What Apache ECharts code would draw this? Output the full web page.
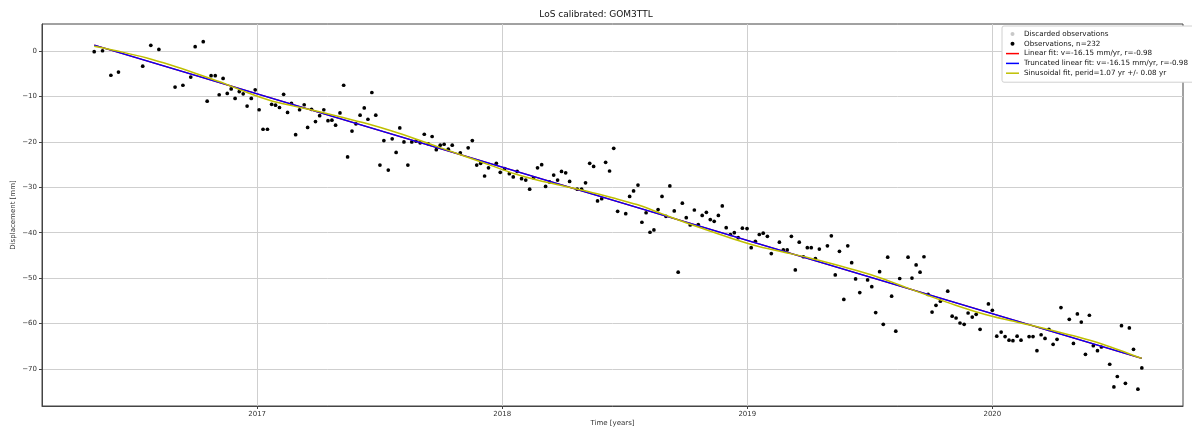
<!DOCTYPE html>
<html>
<head>
<meta charset="utf-8">
<title>LoS calibrated: GOM3TTL</title>
<script src="https://cdn.jsdelivr.net/npm/echarts@6/dist/echarts.min.js"></script>
<style>
  html, body { margin: 0; padding: 0; background: #fff; }
  #main { width: 1192px; height: 428px; }
</style>
</head>
<body>
<div id="main"></div>
<script>
// observation times, decimal years
const obsYears = [
  2016.335, 2016.369, 2016.403, 2016.434, 2016.533, 2016.566, 2016.599, 2016.665, 2016.697, 2016.729,
  2016.747, 2016.780, 2016.796, 2016.812, 2016.829, 2016.845, 2016.861, 2016.878, 2016.894, 2016.910,
  2016.927, 2016.943, 2016.959, 2016.976, 2016.992, 2017.008, 2017.024, 2017.042, 2017.059, 2017.075,
  2017.091, 2017.108, 2017.124, 2017.140, 2017.157, 2017.173, 2017.192, 2017.206, 2017.222, 2017.238,
  2017.255, 2017.272, 2017.289, 2017.305, 2017.320, 2017.338, 2017.353, 2017.369, 2017.387, 2017.403,
  2017.420, 2017.437, 2017.452, 2017.468, 2017.484, 2017.501, 2017.517, 2017.535, 2017.551, 2017.567,
  2017.582, 2017.599, 2017.615, 2017.631, 2017.648, 2017.665, 2017.682, 2017.698, 2017.714, 2017.731,
  2017.747, 2017.763, 2017.780, 2017.796, 2017.829, 2017.861, 2017.878, 2017.896, 2017.912, 2017.928,
  2017.944, 2017.976, 2017.992, 2018.010, 2018.029, 2018.045, 2018.061, 2018.079, 2018.096, 2018.112,
  2018.128, 2018.144, 2018.161, 2018.177, 2018.193, 2018.210, 2018.226, 2018.242, 2018.259, 2018.275,
  2018.306, 2018.324, 2018.340, 2018.357, 2018.373, 2018.389, 2018.406, 2018.422, 2018.438, 2018.455,
  2018.471, 2018.504, 2018.520, 2018.536, 2018.554, 2018.570, 2018.587, 2018.603, 2018.619, 2018.636,
  2018.652, 2018.668, 2018.684, 2018.702, 2018.718, 2018.735, 2018.751, 2018.767, 2018.784, 2018.800,
  2018.816, 2018.833, 2018.849, 2018.865, 2018.882, 2018.898, 2018.914, 2018.931, 2018.947, 2018.963,
  2018.980, 2018.999, 2019.016, 2019.033, 2019.049, 2019.065, 2019.082, 2019.098, 2019.131, 2019.147,
  2019.163, 2019.180, 2019.196, 2019.212, 2019.229, 2019.245, 2019.261, 2019.278, 2019.294, 2019.327,
  2019.343, 2019.359, 2019.376, 2019.394, 2019.410, 2019.426, 2019.442, 2019.459, 2019.491, 2019.508,
  2019.524, 2019.540, 2019.555, 2019.573, 2019.589, 2019.606, 2019.622, 2019.656, 2019.672, 2019.689,
  2019.705, 2019.721, 2019.738, 2019.754, 2019.770, 2019.788, 2019.818, 2019.836, 2019.852, 2019.868,
  2019.885, 2019.901, 2019.918, 2019.934, 2019.950, 2019.984, 2020.000, 2020.018, 2020.036, 2020.052,
  2020.068, 2020.084, 2020.101, 2020.117, 2020.150, 2020.166, 2020.182, 2020.199, 2020.215, 2020.231,
  2020.248, 2020.264, 2020.280, 2020.314, 2020.331, 2020.347, 2020.363, 2020.380, 2020.396, 2020.412,
  2020.429, 2020.445, 2020.479, 2020.496, 2020.510, 2020.527, 2020.543, 2020.559, 2020.576, 2020.594,
  2020.610
];

// displacement [mm]
const obsValues = [
  -0.1, 0.1, -5.3, -4.6, -3.3, 1.3, 0.4, -7.9, -7.5, -5.7,
  1.0, 2.1, -11.0, -5.4, -5.4, -9.6, -6.0, -9.3, -8.3, -10.4,
  -8.9, -9.4, -12.1, -10.4, -8.5, -12.9, -17.2, -17.2, -11.7, -11.9,
  -12.4, -9.5, -13.5, -11.5, -18.4, -12.9, -11.8, -16.8, -12.8, -15.5,
  -14.2, -12.9, -15.3, -15.2, -16.3, -13.6, -7.5, -23.3, -17.6, -16.0,
  -14.1, -12.5, -15.0, -9.1, -14.1, -25.1, -19.7, -26.2, -19.3, -22.3,
  -16.9, -20.0, -25.1, -20.0, -19.8, -20.2, -18.3, -20.4, -18.8, -21.7,
  -20.7, -20.5, -21.6, -20.7, -22.4, -21.3, -19.7, -25.1, -24.7, -27.5,
  -25.7, -24.7, -26.7, -25.9, -27.0, -27.7, -26.5, -28.1, -28.4, -30.4,
  -27.9, -25.7, -25.0, -29.8, -28.8, -27.3, -28.4, -26.5, -26.8, -28.7,
  -30.4, -30.4, -29.0, -24.7, -25.4, -33.0, -32.5, -24.5, -26.4, -21.4,
  -35.3, -35.8, -32.0, -30.8, -29.5, -37.7, -35.6, -39.9, -39.4, -34.9,
  -32.0, -36.4, -29.7, -35.2, -48.7, -33.5, -36.7, -38.3, -35.0, -38.2,
  -36.2, -35.5, -37.1, -37.5, -36.2, -34.1, -38.9, -40.4, -40.0, -41.1,
  -39.0, -39.1, -43.3, -41.9, -40.4, -40.1, -40.8, -44.6, -42.1, -43.8,
  -43.8, -40.8, -48.2, -42.1, -45.3, -43.3, -43.3, -45.7, -43.6, -42.9,
  -40.7, -49.3, -44.1, -54.7, -42.9, -46.6, -50.2, -53.2, -50.4, -51.9,
  -57.6, -48.6, -60.2, -45.4, -54.0, -61.7, -50.1, -45.4, -50.0, -47.1,
  -48.7, -45.3, -53.6, -57.5, -56.0, -55.1, -52.9, -58.4, -58.8, -59.9,
  -60.2, -57.7, -58.6, -58.0, -61.3, -55.7, -57.1, -62.8, -61.9, -62.9,
  -63.7, -63.8, -62.8, -63.7, -62.9, -62.9, -66.0, -62.5, -63.3, -61.3,
  -64.6, -63.5, -56.5, -59.1, -64.4, -57.9, -59.7, -66.8, -58.2, -64.9,
  -66.0, -65.2, -69.0, -74.0, -71.7, -60.5, -73.2, -61.0, -65.7, -74.5,
  -69.8
];

// no discarded observations in this set
const discardedYears = [];
const discardedValues = [];

// linear and truncated linear fit (same line)
const fitYears = [2016.335, 2020.61];
const linearFit = [1.35, -67.7];
const truncatedFit = [1.35, -67.7];

// sinusoidal fit
const sinYears = [
  2016.335, 2016.45, 2016.55, 2016.65, 2016.75, 2016.85, 2016.95, 2017.05, 2017.15, 2017.25,
  2017.35, 2017.45, 2017.55, 2017.65, 2017.75, 2017.85, 2017.95, 2018.05, 2018.15, 2018.25,
  2018.35, 2018.45, 2018.55, 2018.65, 2018.75, 2018.85, 2018.95, 2019.05, 2019.15, 2019.25,
  2019.35, 2019.45, 2019.55, 2019.65, 2019.75, 2019.85, 2019.95, 2020.05, 2020.15, 2020.25,
  2020.35, 2020.45, 2020.55, 2020.61
];
const sinValues = [
  1.1, -0.2, -1.5, -3.1, -4.9, -6.8, -8.9, -10.8, -12.1, -13.3,
  -14.6, -16.0, -17.6, -19.4, -21.3, -23.2, -25.1, -27.0, -28.5, -29.7,
  -30.9, -32.3, -33.8, -35.8, -37.8, -39.7, -41.5, -43.1, -44.3, -45.5,
  -46.9, -48.4, -50.1, -52.1, -54.1, -56.0, -57.7, -59.1, -60.3, -61.6,
  -63.0, -64.6, -66.5, -67.7
];

const xTicks = [2017, 2018, 2019, 2020];
const yTicks = [-70, -60, -50, -40, -30, -20, -10, 0];

const pairs = (xs, ys) => xs.map((x, i) => [x, ys[i]]);
const minus = (v) => String(v).replace("-", "\u2212");

// 图例里的线段图标（细横线）
const lineIcon = "path://M0,0L26,0L26,3L0,3Z";

var myChart = echarts.init(document.getElementById("main"));

var option = {
  animation: false,
  backgroundColor: "#fff",
  textStyle: { fontFamily: "DejaVu Sans" },
  title: {
    text: "LoS calibrated: GOM3TTL",
    left: "center",
    top: 5,
    textStyle: { fontSize: 9, fontWeight: "normal", color: "#111", fontFamily: "DejaVu Sans" },
  },
  grid: {
    left: 42,
    right: 9,
    top: 24,
    bottom: 22,
    outerBoundsMode: "none",
    containLabel: false,
    show: true,
    borderColor: "#444",
    borderWidth: 1,
  },
  legend: {
    orient: "vertical",
    left: 1002,
    top: 26,
    padding: [4, 6, 5, 4],
    itemWidth: 13,
    itemHeight: 4,
    itemGap: 1.8,
    selectedMode: false,
    symbolKeepAspect: true,
    backgroundColor: "#fff",
    borderColor: "#d0d0d0",
    borderWidth: 1,
    borderRadius: 2,
    textStyle: { fontSize: 7.2, lineHeight: 8, color: "#111", fontFamily: "DejaVu Sans" },
    data: [
      { name: "Discarded observations", icon: "circle" },
      { name: "Observations, n=232", icon: "circle" },
      { name: "Linear fit: v=-16.15 mm/yr, r=-0.98", icon: lineIcon },
      { name: "Truncated linear fit: v=-16.15 mm/yr, r=-0.98", icon: lineIcon },
      { name: "Sinusoidal fit, perid=1.07 yr +/- 0.08 yr", icon: lineIcon },
    ],
  },
  xAxis: {
    type: "value",
    min: 2016.122,
    max: 2020.778,
    name: "Time [years]",
    nameLocation: "middle",
    nameGap: 14,
    nameMoveOverlap: false,
    nameTextStyle: { fontSize: 7, color: "#333" },
    axisLine: { show: true, onZero: false, lineStyle: { color: "#444" } },
    axisTick: { show: true, length: 3, customValues: xTicks, lineStyle: { color: "#444" } },
    axisLabel: { customValues: xTicks, fontSize: 7, color: "#333", margin: 5, formatter: (v) => String(v) },
    splitLine: { show: true, lineStyle: { color: "#cfcfcf" } },
  },
  yAxis: {
    type: "value",
    min: -78.2,
    max: 6,
    name: "Displacement [mm]",
    nameLocation: "middle",
    nameGap: 25,
    nameMoveOverlap: false,
    nameTextStyle: { fontSize: 7, color: "#333" },
    axisLine: { show: true, onZero: false, lineStyle: { color: "#444" } },
    axisTick: { show: true, length: 3, customValues: yTicks, lineStyle: { color: "#444" } },
    axisLabel: { customValues: yTicks, fontSize: 7, color: "#333", margin: 5, formatter: minus },
    splitLine: { show: true, lineStyle: { color: "#cfcfcf" } },
  },
  series: [
    {
      name: "Discarded observations",
      type: "scatter",
      symbolSize: 3,
      itemStyle: { color: "#c8c8c8", opacity: 1 },
      data: pairs(discardedYears, discardedValues),
    },
    {
      name: "Observations, n=232",
      type: "scatter",
      symbolSize: 3.7,
      itemStyle: { color: "#000", opacity: 1 },
      data: pairs(obsYears, obsValues),
    },
    {
      name: "Linear fit: v=-16.15 mm/yr, r=-0.98",
      type: "line",
      symbol: "none",
      lineStyle: { color: "#ff0000", width: 1.5 },
      itemStyle: { color: "#ff0000" },
      data: pairs(fitYears, linearFit),
    },
    {
      name: "Truncated linear fit: v=-16.15 mm/yr, r=-0.98",
      type: "line",
      symbol: "none",
      lineStyle: { color: "#0000ff", width: 1.5 },
      itemStyle: { color: "#0000ff" },
      data: pairs(fitYears, truncatedFit),
    },
    {
      name: "Sinusoidal fit, perid=1.07 yr +/- 0.08 yr",
      type: "line",
      symbol: "none",
      smooth: 0.3,
      lineStyle: { color: "#bfbf00", width: 1.5 },
      itemStyle: { color: "#bfbf00" },
      data: pairs(sinYears, sinValues),
    },
  ],
};

myChart.setOption(option);
</script>
</body>
</html>
